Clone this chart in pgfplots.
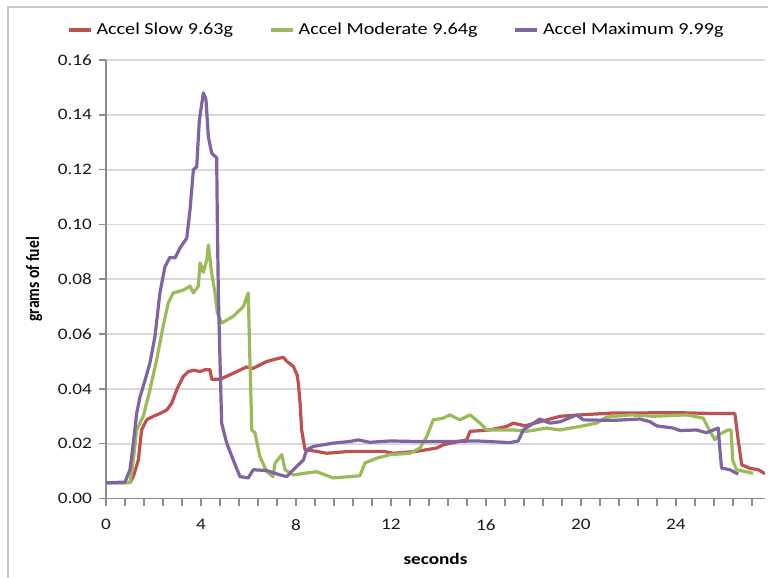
\documentclass[border=0pt]{standalone}
\usepackage{fontspec}
\setmainfont{Carlito}[FakeStretch=1.2]
\newfontfamily\ylabfont{Carlito}
\usepackage{graphicx}
\usepackage{pgfplots}
\pgfplotsset{compat=1.18}
\definecolor{cred}{HTML}{C0504D}
\definecolor{cgreen}{HTML}{9BBB59}
\definecolor{cpurple}{HTML}{8064A2}
\definecolor{axgray}{HTML}{8C8C8C}
\definecolor{gridc}{HTML}{D9D9D9}
\begin{document}
\begin{tikzpicture}[x=1bp,y=1bp]
\useasboundingbox (0,0) rectangle (384,289);
\draw[gridc!80!gray, line width=0.8bp] (4,-2) -- (4,285.5) -- (390,285.5);
\begin{axis}[
  at={(53bp,39.75bp)}, anchor=south west,
  scale only axis, width=329.5bp, height=219.25bp,
  xmin=0, xmax=27.75, ymin=0, ymax=0.16,
  axis x line*=bottom, axis y line*=left,
  axis line style={axgray, line width=0.8bp, -},
  xtick={0,0.8,...,27.3},
  xticklabels={0,,,,,4,,,,,8,,,,,12,,,,,16,,,,,20,,,,,24,,,,},
  ytick={0,0.02,...,0.161},
  xmajorgrids=false, ymajorgrids=true,
  grid style={draw=gridc, line width=0.9bp},
  tick align=outside, major tick length=3.5bp,
  tick style={axgray, line width=0.8bp},
  /pgf/number format/assume math mode=true,
  yticklabel style={/pgf/number format/fixed, /pgf/number format/precision=2, /pgf/number format/fixed zerofill, font=\fontsize{8bp}{9.6bp}\selectfont, text=black!90},
  xticklabel style={font=\fontsize{8bp}{9.6bp}\selectfont, text=black!90, yshift=-3.5bp},
  scaled y ticks=false,
  xlabel={\bfseries seconds},
  xlabel style={font=\fontsize{8bp}{9.6bp}\selectfont, yshift=-4.5bp},
  ylabel={\ylabfont\bfseries\scalebox{1}[1.2]{grams of fuel}},
  ylabel style={font=\fontsize{7.8bp}{9bp}\selectfont, yshift=1bp},
  legend columns=3,
  legend style={draw=none, fill=none, at={(0.442,1)}, anchor=center, yshift=15bp,
    font=\fontsize{8.4bp}{10bp}\selectfont, /tikz/every even column/.append style={column sep=16bp},
    inner sep=0pt, cells={anchor=west}},
  legend image code/.code={\draw[#1, line width=1.8bp] (0bp,0bp) -- (11bp,0bp);},
  every axis plot/.append style={line width=1.6bp, line join=round, mark=none},
]
\addplot[cred] coordinates {(0,0.0057)(1.01,0.0058)(1.15,0.008)(1.36,0.014)(1.50,0.025)(1.71,0.0287)(1.99,0.030)(2.27,0.031)(2.56,0.0323)(2.77,0.0348)(2.98,0.0397)(3.25,0.0445)(3.47,0.0463)(3.70,0.0468)(3.96,0.0463)(4.17,0.047)(4.38,0.047)(4.45,0.0435)(4.80,0.0435)(5.36,0.0457)(5.92,0.048)(6.20,0.0475)(6.77,0.050)(7.20,0.051)(7.47,0.0515)(7.62,0.050)(7.89,0.0482)(8.05,0.045)(8.10,0.042)(8.17,0.035)(8.24,0.025)(8.38,0.0178)(8.87,0.0172)(9.29,0.0165)(10.27,0.0172)(11.68,0.0172)(12.10,0.0165)(13.08,0.0172)(13.92,0.0184)(14.20,0.0196)(15.19,0.0214)(15.33,0.0245)(16.17,0.025)(16.87,0.0263)(17.15,0.0275)(17.64,0.0265)(18.27,0.028)(19.12,0.030)(19.96,0.0305)(21.36,0.0312)(24.17,0.0313)(25.56,0.031)(26.48,0.031)(26.62,0.0214)(26.77,0.0123)(27.12,0.011)(27.47,0.0105)(27.75,0.009)};
\addlegendentry{Accel Slow 9.63g}
\addplot[cgreen] coordinates {(0,0.0057)(1.01,0.0058)(1.15,0.014)(1.29,0.025)(1.57,0.030)(1.85,0.0397)(2.13,0.0505)(2.41,0.063)(2.62,0.0713)(2.83,0.075)(3.25,0.076)(3.54,0.0775)(3.68,0.075)(3.89,0.0775)(3.96,0.086)(4.10,0.0825)(4.24,0.087)(4.31,0.0925)(4.45,0.0822)(4.59,0.075)(4.69,0.0677)(4.87,0.064)(5.36,0.0665)(5.78,0.070)(5.99,0.075)(6.06,0.0505)(6.14,0.025)(6.27,0.024)(6.48,0.0153)(6.77,0.0098)(7.03,0.008)(7.12,0.0129)(7.40,0.016)(7.54,0.0105)(7.89,0.0086)(8.45,0.0093)(8.87,0.0098)(9.57,0.0075)(10.69,0.0083)(10.91,0.013)(11.40,0.0147)(11.96,0.016)(12.80,0.0165)(13.22,0.0184)(13.50,0.0225)(13.78,0.0287)(14.20,0.0293)(14.48,0.0305)(14.90,0.0287)(15.33,0.0305)(15.75,0.0275)(16.03,0.025)(16.59,0.025)(17.14,0.025)(17.71,0.0245)(18.56,0.0257)(19.12,0.025)(19.96,0.0263)(20.66,0.0275)(21.08,0.0297)(22.06,0.0305)(23.04,0.030)(24.45,0.0305)(25.15,0.0293)(25.43,0.0245)(25.64,0.0215)(25.85,0.0235)(26.20,0.025)(26.32,0.025)(26.39,0.014)(26.55,0.0105)(27.25,0.0092)};
\addlegendentry{Accel Moderate 9.64g}
\addplot[cpurple] coordinates {(0,0.0057)(0.80,0.006)(1.01,0.0105)(1.15,0.020)(1.29,0.031)(1.43,0.037)(1.64,0.043)(1.85,0.0495)(2.06,0.059)(2.27,0.075)(2.48,0.0845)(2.69,0.088)(2.91,0.0878)(3.12,0.0915)(3.40,0.095)(3.54,0.1055)(3.68,0.120)(3.82,0.121)(3.93,0.138)(4.10,0.148)(4.21,0.1455)(4.31,0.132)(4.45,0.126)(4.66,0.1243)(4.69,0.10)(4.73,0.075)(4.80,0.0505)(4.87,0.0275)(5.08,0.0203)(5.36,0.014)(5.64,0.008)(5.99,0.0075)(6.20,0.0105)(6.77,0.0102)(7.33,0.0086)(7.61,0.008)(8.03,0.0117)(8.31,0.014)(8.45,0.0178)(8.73,0.019)(9.57,0.0202)(10.27,0.0208)(10.62,0.0214)(11.10,0.0205)(11.96,0.021)(13.08,0.0208)(14.48,0.0208)(15.61,0.021)(17.01,0.0204)(17.36,0.021)(17.57,0.025)(18.27,0.029)(18.69,0.0275)(19.12,0.028)(19.82,0.0305)(20.10,0.0287)(21.36,0.0285)(22.48,0.029)(22.91,0.028)(23.19,0.0265)(23.89,0.0257)(24.17,0.0248)(24.87,0.025)(25.29,0.024)(25.78,0.0257)(25.85,0.018)(25.92,0.0111)(26.27,0.0105)(26.62,0.0089)};
\addlegendentry{Accel Maximum 9.99g}
\end{axis}
\end{tikzpicture}
\end{document}
